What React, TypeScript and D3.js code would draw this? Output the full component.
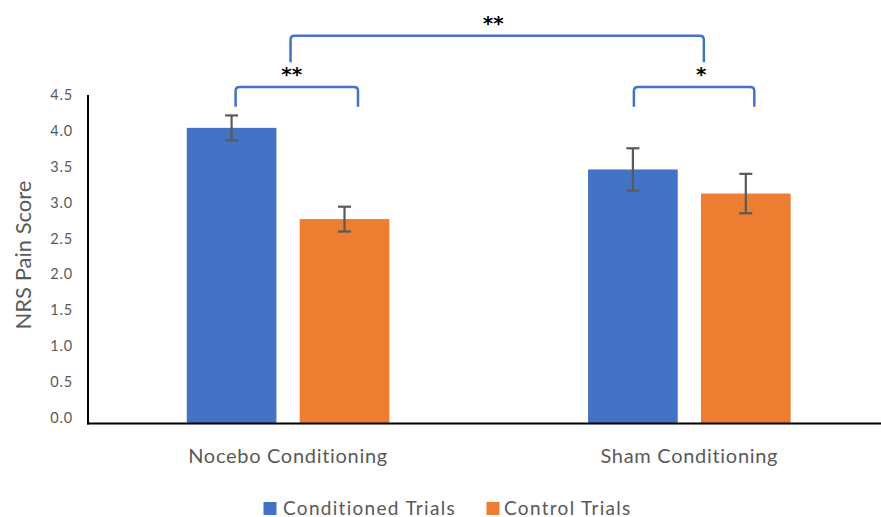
import React from "react";
import * as d3 from "d3";

const categories = ["Nocebo Conditioning", "Sham Conditioning"];
const seriesNames = ["Conditioned Trials", "Control Trials"];
const conditionedValues = [4.05, 3.48];
const conditionedErrors = [0.17, 0.29];
const controlValues = [2.8, 3.15];
const controlErrors = [0.17, 0.27];
const yTicks = [0, 0.5, 1, 1.5, 2, 2.5, 3, 3.5, 4, 4.5];
const seriesColors = ["#4472C4", "#ED7D31"];

// significance brackets: between two series within a group, or between groups
const innerBrackets = [
  { group: 0, label: "**", top: 4.61, bottom: 4.34 },
  { group: 1, label: "*", top: 4.61, bottom: 4.34 },
];
const outerBrackets = [{ label: "**", top: 5.31, bottom: 4.95 }];

const W = 881;
const H = 517;

export default function App() {
  const y = d3.scaleLinear().domain([0, 4.5]).range([423.5, 95]);
  const yLabel = d3.scaleLinear().domain([0, 4.5]).range([418, 95]);
  const x0 = d3.scaleBand<string>().domain(categories).range([87.4, 890]).padding(0);
  const x1 = d3
    .scaleBand<string>()
    .domain(seriesNames)
    .range([0, x0.bandwidth()])
    .paddingInner(0.206)
    .paddingOuter(0.88);

  const series = [
    { name: seriesNames[0], values: conditionedValues, errors: conditionedErrors, color: seriesColors[0] },
    { name: seriesNames[1], values: controlValues, errors: controlErrors, color: seriesColors[1] },
  ];

  const barCenter = (ci: number, si: number) =>
    (x0(categories[ci]) as number) + (x1(seriesNames[si]) as number) + x1.bandwidth() / 2;

  const bracketPath = (xa: number, xb: number, yt: number, yb: number) => {
    const r = 4;
    return `M${xa},${yb} L${xa},${yt + r} Q${xa},${yt} ${xa + r},${yt} L${xb - r},${yt} Q${xb},${yt} ${xb},${yt + r} L${xb},${yb}`;
  };

  const textColor = "#595959";
  const font = "Lato, 'Open Sans', sans-serif";

  const legendItems = [
    { name: seriesNames[0], color: seriesColors[0], sx: 263.5, tx: 283 },
    { name: seriesNames[1], color: seriesColors[1], sx: 486.5, tx: 504 },
  ];

  return (
    <svg
      width={W}
      height={H}
      style={{ position: "absolute", left: 0, top: 0, background: "#fff" }}
      fontFamily={font}
    >
      {/* bars */}
      {series.map((s, si) =>
        categories.map((c, ci) => {
          const xx = (x0(c) as number) + (x1(s.name) as number);
          return (
            <rect
              key={`b${si}-${ci}`}
              x={xx}
              y={y(s.values[ci])}
              width={x1.bandwidth()}
              height={y(0) - y(s.values[ci])}
              fill={s.color}
            />
          );
        })
      )}
      {/* error bars */}
      {series.map((s, si) =>
        categories.map((c, ci) => {
          const cx = barCenter(ci, si);
          const hi = y(s.values[ci] + s.errors[ci]);
          const lo = y(s.values[ci] - s.errors[ci]);
          return (
            <g key={`e${si}-${ci}`} stroke="#595959" strokeWidth={2.2}>
              <line x1={cx} x2={cx} y1={hi} y2={lo} />
              <line x1={cx - 6.5} x2={cx + 6.5} y1={hi} y2={hi} />
              <line x1={cx - 6.5} x2={cx + 6.5} y1={lo} y2={lo} />
            </g>
          );
        })
      )}
      {/* axes */}
      <line x1={88} x2={88} y1={y(4.5)} y2={y(0) + 1} stroke="#000" strokeWidth={2} />
      <line x1={87} x2={W} y1={y(0)} y2={y(0)} stroke="#000" strokeWidth={2} />
      {yTicks.map((t) => (
        <text
          key={t}
          x={73}
          y={yLabel(t) + 5}
          textAnchor="end"
          fontSize={14.5}
          letterSpacing={0.8}
          fill={textColor}
        >
          {t.toFixed(1)}
        </text>
      ))}
      <text
        transform={`translate(31,255) rotate(-90)`}
        textAnchor="middle"
        fontSize={22}
        fill={textColor}
      >
        NRS Pain Score
      </text>
      {categories.map((c) => (
        <text
          key={c}
          x={(x0(c) as number) + x0.bandwidth() / 2}
          y={463}
          textAnchor="middle"
          fontSize={20}
          letterSpacing={0.7}
          fill={textColor}
        >
          {c}
        </text>
      ))}
      {/* brackets */}
      {innerBrackets.map((b, i) => {
        const xa = barCenter(b.group, 0) + (b.group === 0 ? 4 : 1);
        const xb = barCenter(b.group, 1) + (b.group === 0 ? 13.5 : 8.5);
        const yt = y(b.top);
        return (
          <g key={`ib${i}`}>
            <path d={bracketPath(xa, xb, yt, y(b.bottom))} fill="none" stroke="#4472C4" strokeWidth={2.5} />
            <text
              x={b.group === 0 ? (xa + xb) / 2 - 5 : xb - 53}
              y={yt - 13}
              textAnchor="middle"
              dominantBaseline="central"
              fontSize={20}
              fontWeight="bold"
              fill="#000"
              fontFamily="'DejaVu Sans', sans-serif"
            >
              {b.label}
            </text>
          </g>
        );
      })}
      {outerBrackets.map((b, i) => {
        const xa = (x0(categories[0]) as number) + x0.bandwidth() / 2 + 2.5;
        const xb = (x0(categories[1]) as number) + x0.bandwidth() / 2 + 14.5;
        const yt = y(b.top);
        return (
          <g key={`ob${i}`}>
            <path d={bracketPath(xa, xb, yt, y(b.bottom))} fill="none" stroke="#4472C4" strokeWidth={2.5} />
            <text
              x={(xa + xb) / 2 - 4}
              y={yt - 13}
              textAnchor="middle"
              dominantBaseline="central"
              fontSize={20}
              fontWeight="bold"
              fill="#000"
              fontFamily="'DejaVu Sans', sans-serif"
            >
              {b.label}
            </text>
          </g>
        );
      })}
      {/* legend */}
      {legendItems.map((l) => (
        <g key={l.name}>
          <rect x={l.sx} y={502} width={13} height={13} fill={l.color} />
          <text x={l.tx} y={514.5} fontSize={19} letterSpacing={1.3} fill={textColor}>
            {l.name}
          </text>
        </g>
      ))}
    </svg>
  );
}
